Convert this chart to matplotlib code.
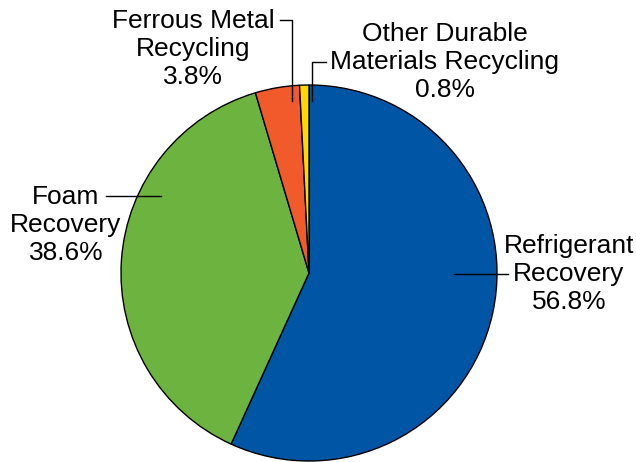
import matplotlib.pyplot as plt

# Datos del gráfico
categorias = ['Refrigerant\nRecovery', 'Foam\nRecovery', 'Ferrous Metal\nRecycling', 'Other Durable\nMaterials Recycling']
valores = [56.8, 38.6, 3.8, 0.8]
colores = ['#0055a5', '#6db33f', '#f15a2b', '#ffd800']

W, H = 636, 462
fig = plt.figure(figsize=(W / 100, H / 100), dpi=100)
ax = fig.add_axes([0, 0, 1, 1])

cx, cy, r = 309, H - 273, 188
ax.pie(valores, colors=colores, startangle=90, counterclock=False,
       center=(cx, cy), radius=r, frame=True,
       wedgeprops=dict(edgecolor='black', linewidth=1))
ax.set_xlim(0, W)
ax.set_ylim(0, H)
ax.set_aspect('equal')
ax.axis('off')

fs = 19
# Etiquetas con porcentaje
posiciones = [(569, 274), (66, 225), (193, 49), (445, 62)]
for texto, v, (x, y) in zip(categorias, valores, posiciones):
    ax.text(x, H - y, f'{texto}\n{v}%', ha='center', va='center',
            fontsize=fs, linespacing=1.22, family='Liberation Sans')

# Líneas guía
lc = dict(color='black', lw=1)
ax.plot([454, 508], [H - 274, H - 274], **lc)
ax.plot([106, 161], [H - 196, H - 196], **lc)
ax.plot([280, 292, 292], [H - 20, H - 20, H - 101], **lc)
ax.plot([326, 312, 312], [H - 62, H - 62, H - 101], **lc)

plt.savefig('out.png', dpi=100)
